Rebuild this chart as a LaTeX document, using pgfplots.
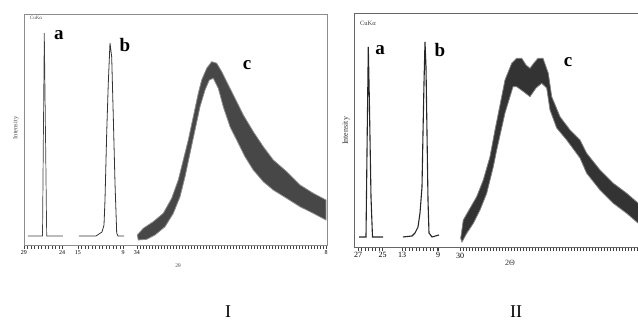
\documentclass[border=0pt]{standalone}
\usepackage{fontspec}
\setmainfont{Liberation Serif}
\usepackage{pgfplots}
\pgfplotsset{compat=1.18}
\begin{document}
\begin{tikzpicture}[x=1pt,y=1pt]
\pgfplotsset{
  xrdpanel/.style={
    scale only axis, clip=false,
    ytick=\empty,
    xtick pos=bottom, tick align=outside,
    major tick length=4pt, minor tick length=4pt,
    /pgf/number format/assume math mode=true,
    every tick/.append style={black!75, line width=0.4pt},
  }
}
% ---------------- Panel I ----------------
\begin{axis}[xrdpanel,
  at={(24pt,78pt)}, anchor=south west, width=303pt, height=231pt,
  xmin=24, xmax=327, ymin=0, ymax=231,
  axis line style={black!45, line width=0.6pt},
  xtick={24,62,78,123,137,326}, xticklabels={29,24,15,9,34,8},
  xticklabel style={font=\fontsize{6}{6}\selectfont, inner sep=1pt},
  minor xtick={27.5,31,34.5,38,41.5,45,48.5,52,55.5,59,
    81.5,85,88.5,92,95.5,99,102.5,106,109.5,113,116.5,120,
    140,143,146,149,152,155,158,161,164,167,170,173,176,179,182,185,188,191,194,197,
    200,203,206,209,212,215,218,221,224,227,230,233,236,239,242,245,248,251,254,257,
    260,263,266,269,272,275,278,281,284,287,290,293,296,299,302,305,308,311,314,317,320,323},
]
% peak a
\addplot[black!75, line width=0.7pt] coordinates {
 (28,9) (42.5,9) (44.3,212) (46.7,9) (63,9)};
% peak b
\addplot[black!80, line width=0.8pt] coordinates {
 (79,9) (96,9) (99,11) (102,13) (104,20) (105,45) (106.7,112) (108.3,162)
 (110,202) (111.7,188) (113.3,128) (115,62) (116.7,12) (118,9) (124,9)};
% peak c (noisy band: upper and lower envelope)
\addplot[fill=black!72, draw=black!45, line width=0.8pt] coordinates {
 (137.3,10) (143.3,16.7) (153.3,23.3) (163.3,31.7) (171.7,46.7) (178.3,65) (183.3,85)
 (188.3,105) (193.3,128.3) (198.3,151.7) (201.7,165) (206.7,176.7) (211.7,183.3)
 (216.7,181.7) (221.7,173.3) (228.3,160) (235,146.7) (243.3,130) (253.3,113.3)
 (263.3,98.3) (273.3,85) (286.7,73.3) (300,60) (313.3,51.7) (326,45)
 (326,25) (313.3,31.7) (300,38.3) (286.7,46.7) (273.3,55) (263.3,63.3) (253.3,75)
 (245,88.3) (236.7,105) (230,118.3) (223.3,138.3) (218.3,156.7) (213.3,166.7)
 (209.3,165) (205,155) (200,138.3) (195,115) (190,91.7) (185,68.3) (180,48.3)
 (173.3,31.7) (165,18.3) (155,10) (146.7,5.7) (138.3,5)} -- cycle;
\node[font=\fontsize{19}{19}\selectfont\bfseries] at (axis cs:59,210) {a};
\node[font=\fontsize{19}{19}\selectfont\bfseries] at (axis cs:125,200) {b};
\node[font=\fontsize{19}{19}\selectfont\bfseries] at (axis cs:247,180) {c};
\node[font=\fontsize{5}{5}\selectfont, black!70] at (axis cs:36,227) {CuKα};
\node[font=\fontsize{6.5}{7}\selectfont, black!70, rotate=90] at (axis cs:16,117) {Intensity};
\node[font=\fontsize{5.5}{6}\selectfont, black!70] at (axis cs:178,-21) {2θ};
\end{axis}
% ---------------- Panel II ----------------
\begin{axis}[xrdpanel,
  at={(354pt,76pt)}, anchor=south west, width=306pt, height=234pt,
  xmin=354, xmax=660, ymin=0, ymax=234,
  axis line style={black!60, line width=0.9pt},
  xtick={358,382.5,402,438,460}, xticklabels={27,25,13,9,30},
  xticklabel style={font=\fontsize{8}{8}\selectfont, inner sep=1.5pt},
  minor xtick={361.5,365,368.5,372,375.5,379,
    405.5,409,412.5,416,419.5,423,426.5,430,433.5,437,
    463,466,469,472,475,478,481,484,487,490,493,496,499,502,505,508,511,514,517,520,
    523,526,529,532,535,538,541,544,547,550,553,556,559,562,565,568,571,574,577,580,
    583,586,589,592,595,598,601,604,607,610,613,616,619,622,625,628,631,634,637},
]
% peak a
\addplot[black!85, line width=1.1pt] coordinates {
 (359,10) (366,10) (367.3,120) (368.3,200) (369.3,150) (371,50) (372.5,10) (383,10)};
% peak b
\addplot[black!85, line width=1.1pt] coordinates {
 (403,10) (412,11) (415,14) (418,20) (420,34) (422,60) (423,114) (424,164)
 (425,205) (426,180) (427,114) (428,47) (429,14) (432,10) (439,12)};
% peak c (noisy band: upper and lower envelope)
\addplot[fill=black!80, draw=black!50, line width=0.8pt] coordinates {
 (460.7,8.7) (463.3,27) (470,38.7) (476.7,50.3) (483.3,67) (490,90.3) (495,117)
 (501.7,150.3) (505,167) (511.7,183.7) (516.7,188.7) (521.7,188.7) (526,182)
 (530,178.7) (534,184) (538,188.7) (543,188.7) (548.3,173.7) (551.7,150.3)
 (560,130.3) (570,117) (580,107) (586.7,93.7) (600,77) (613.3,63.7) (626.7,53.7)
 (638.3,43.7) (650,37)
 (650,17) (638.3,23.7) (626.7,33.7) (613.3,43.7) (600,57) (586.7,73.7) (580,89)
 (566.7,107) (556.7,119) (550,137) (546.7,159) (541.7,163.7) (536,159) (530,150.3)
 (524,155) (516.7,160.3) (513,160.3) (505,134) (496.7,97) (493.3,80.3) (486.7,53.7)
 (480,37) (473.3,23.7) (466.7,13.7) (462,5)} -- cycle;
\node[font=\fontsize{19}{19}\selectfont\bfseries] at (axis cs:380,197) {a};
\node[font=\fontsize{19}{19}\selectfont\bfseries] at (axis cs:440,197) {b};
\node[font=\fontsize{19}{19}\selectfont\bfseries] at (axis cs:568,185) {c};
\node[font=\fontsize{6.5}{7}\selectfont, black!75] at (axis cs:368,224) {CuKα};
\node[font=\fontsize{8}{8}\selectfont, black!80, rotate=90] at (axis cs:346,116) {Intensity};
\node[font=\fontsize{8}{8}\selectfont, black!80] at (axis cs:510,-16) {2Θ};
\end{axis}
\node[font=\fontsize{18}{18}\selectfont] at (228pt,11pt) {I};
\node[font=\fontsize{18}{18}\selectfont] at (516pt,11pt) {II};
\pgfresetboundingbox
\path[use as bounding box] (0pt,0pt) rectangle (638pt,323pt);
\end{tikzpicture}
\end{document}
